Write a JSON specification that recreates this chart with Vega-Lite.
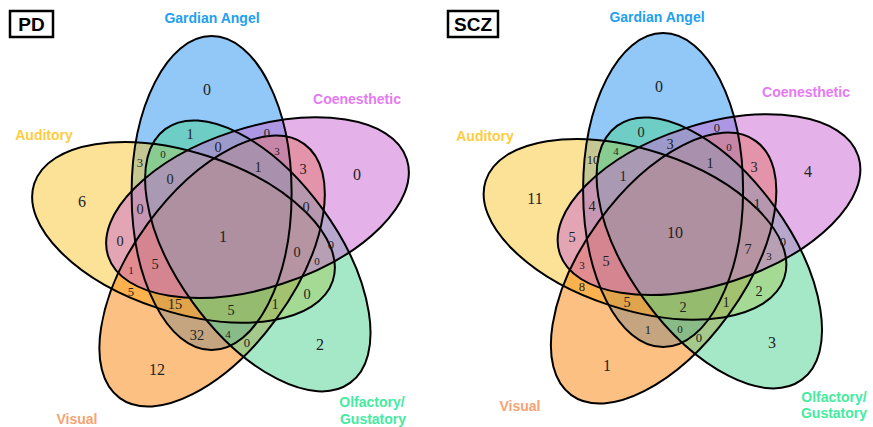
{
  "$schema": "https://vega.github.io/schema/vega-lite/v6.json",
  "width": 873,
  "height": 427,
  "autosize": {"type": "fit", "contains": "padding"},
  "padding": 0,
  "background": "white",
  "config": {"view": {"stroke": null}},
  "datasets": {
    "ellipses": [
      {"panel": "PD", "set": "Gardian", "cx": 211.6, "cy": 193.1, "rot": 270},
      {"panel": "PD", "set": "Auditory", "cx": 183.5, "cy": 232.3, "rot": 18},
      {"panel": "PD", "set": "Visual", "cx": 212.1, "cy": 271.1, "rot": 126},
      {"panel": "PD", "set": "Olfactory", "cx": 257.8, "cy": 255.9, "rot": 54},
      {"panel": "PD", "set": "Coenesthetic", "cx": 257.5, "cy": 207.7, "rot": 342},
      {"panel": "SCZ", "set": "Gardian", "cx": 663.1, "cy": 190.1, "rot": 270},
      {"panel": "SCZ", "set": "Auditory", "cx": 635.0, "cy": 229.3, "rot": 18},
      {"panel": "SCZ", "set": "Visual", "cx": 663.6, "cy": 268.1, "rot": 126},
      {"panel": "SCZ", "set": "Olfactory", "cx": 709.3, "cy": 252.9, "rot": 54},
      {"panel": "SCZ", "set": "Coenesthetic", "cx": 709.0, "cy": 204.7, "rot": 342}
    ],
    "counts": [
      {"x": 207, "y": 90, "n": "0", "cls": "big"},
      {"x": 357, "y": 175, "n": "0", "cls": "big"},
      {"x": 82, "y": 202, "n": "6", "cls": "big"},
      {"x": 223, "y": 237, "n": "1", "cls": "big"},
      {"x": 157, "y": 370, "n": "12", "cls": "big"},
      {"x": 320, "y": 345, "n": "2", "cls": "big"},
      {"x": 190, "y": 135, "n": "1", "cls": "mid"},
      {"x": 267, "y": 133, "n": "0", "cls": "small"},
      {"x": 218, "y": 148, "n": "0", "cls": "mid"},
      {"x": 140, "y": 163, "n": "3", "cls": "small"},
      {"x": 163, "y": 155, "n": "0", "cls": "tiny"},
      {"x": 277, "y": 152, "n": "3", "cls": "tiny"},
      {"x": 258, "y": 168, "n": "1", "cls": "mid"},
      {"x": 303, "y": 170, "n": "3", "cls": "mid"},
      {"x": 170, "y": 180, "n": "0", "cls": "mid"},
      {"x": 140, "y": 210, "n": "0", "cls": "mid"},
      {"x": 306, "y": 208, "n": "0", "cls": "mid"},
      {"x": 120, "y": 242, "n": "0", "cls": "mid"},
      {"x": 331, "y": 245, "n": "0", "cls": "small"},
      {"x": 297, "y": 253, "n": "0", "cls": "mid"},
      {"x": 317, "y": 262, "n": "0", "cls": "tiny"},
      {"x": 131, "y": 271, "n": "1", "cls": "tiny"},
      {"x": 155, "y": 265, "n": "5", "cls": "mid"},
      {"x": 131, "y": 292, "n": "5", "cls": "small"},
      {"x": 175, "y": 305, "n": "15", "cls": "mid"},
      {"x": 231, "y": 311, "n": "5", "cls": "mid"},
      {"x": 275, "y": 305, "n": "1", "cls": "mid"},
      {"x": 307, "y": 295, "n": "0", "cls": "mid"},
      {"x": 197, "y": 336, "n": "32", "cls": "mid"},
      {"x": 228, "y": 335, "n": "4", "cls": "tiny"},
      {"x": 247, "y": 343, "n": "0", "cls": "small"},
      {"x": 659, "y": 87, "n": "0", "cls": "big"},
      {"x": 808, "y": 172, "n": "4", "cls": "big"},
      {"x": 535, "y": 199, "n": "11", "cls": "big"},
      {"x": 675, "y": 233, "n": "10", "cls": "big"},
      {"x": 607, "y": 366, "n": "1", "cls": "big"},
      {"x": 772, "y": 343, "n": "3", "cls": "big"},
      {"x": 641, "y": 133, "n": "0", "cls": "mid"},
      {"x": 717, "y": 128, "n": "0", "cls": "small"},
      {"x": 670, "y": 145, "n": "3", "cls": "mid"},
      {"x": 593, "y": 160, "n": "10", "cls": "small"},
      {"x": 616, "y": 152, "n": "4", "cls": "tiny"},
      {"x": 729, "y": 148, "n": "0", "cls": "tiny"},
      {"x": 710, "y": 164, "n": "1", "cls": "mid"},
      {"x": 754, "y": 168, "n": "3", "cls": "mid"},
      {"x": 623, "y": 177, "n": "1", "cls": "mid"},
      {"x": 592, "y": 207, "n": "4", "cls": "mid"},
      {"x": 757, "y": 205, "n": "1", "cls": "mid"},
      {"x": 572, "y": 238, "n": "5", "cls": "mid"},
      {"x": 783, "y": 242, "n": "0", "cls": "small"},
      {"x": 748, "y": 250, "n": "7", "cls": "mid"},
      {"x": 769, "y": 257, "n": "3", "cls": "tiny"},
      {"x": 582, "y": 266, "n": "3", "cls": "tiny"},
      {"x": 606, "y": 262, "n": "5", "cls": "mid"},
      {"x": 582, "y": 287, "n": "8", "cls": "small"},
      {"x": 627, "y": 303, "n": "5", "cls": "mid"},
      {"x": 683, "y": 308, "n": "2", "cls": "mid"},
      {"x": 726, "y": 303, "n": "1", "cls": "mid"},
      {"x": 759, "y": 292, "n": "2", "cls": "mid"},
      {"x": 648, "y": 330, "n": "1", "cls": "small"},
      {"x": 680, "y": 330, "n": "0", "cls": "tiny"},
      {"x": 699, "y": 338, "n": "0", "cls": "small"}
    ],
    "cats": [
      {"x": 212, "y": 19, "set": "Gardian", "label": "Gardian Angel"},
      {"x": 357, "y": 100, "set": "Coenesthetic", "label": "Coenesthetic"},
      {"x": 44, "y": 136, "set": "Auditory", "label": "Auditory"},
      {"x": 77, "y": 420, "set": "Visual", "label": "Visual"},
      {"x": 372, "y": 403, "set": "Olfactory", "label": "Olfactory/"},
      {"x": 373, "y": 420, "set": "Olfactory", "label": "Gustatory"},
      {"x": 657, "y": 18, "set": "Gardian", "label": "Gardian Angel"},
      {"x": 806, "y": 93, "set": "Coenesthetic", "label": "Coenesthetic"},
      {"x": 485, "y": 137, "set": "Auditory", "label": "Auditory"},
      {"x": 520, "y": 407, "set": "Visual", "label": "Visual"},
      {"x": 834, "y": 398, "set": "Olfactory", "label": "Olfactory/"},
      {"x": 834, "y": 414, "set": "Olfactory", "label": "Gustatory"}
    ],
    "boxes": [
      {"panel": "PD", "x1": 10, "x2": 53, "y1": 11, "y2": 37, "xc": 31.5, "yc": 24.5},
      {"panel": "SCZ", "x1": 448, "x2": 498, "y1": 11, "y2": 37, "xc": 473, "yc": 24.5}
    ]
  },
  "layer": [
    {
      "data": {"name": "ellipses"},
      "mark": {
        "type": "point",
        "filled": true,
        "opacity": 1,
        "fillOpacity": 0.5,
        "strokeWidth": 0,
        "size": 98596,
        "shape": "M1,0C1,0.2814 0.5523,0.5096 0,0.5096C-0.5523,0.5096 -1,0.2814 -1,0C-1,-0.2814 -0.5523,-0.5096 0,-0.5096C0.5523,-0.5096 1,-0.2814 1,0Z"
      },
      "encoding": {
        "x": {"field": "cx", "type": "quantitative", "scale": {"domain": [0, 873], "nice": false, "zero": false}, "axis": null},
        "y": {"field": "cy", "type": "quantitative", "scale": {"domain": [0, 427], "nice": false, "zero": false, "reverse": true}, "axis": null},
        "fill": {
          "field": "set", "type": "nominal", "legend": null,
          "scale": {"domain": ["Gardian", "Coenesthetic", "Auditory", "Visual", "Olfactory"], "range": ["#2391F1", "#C965D1", "#F9C52D", "#F98105", "#4BD191"]}
        },
        "angle": {"field": "rot", "type": "quantitative", "scale": {"domain": [0, 360], "range": [0, 360]}}
      }
    },
    {
      "data": {"name": "ellipses"},
      "mark": {
        "type": "point",
        "filled": false,
        "opacity": 1,
        "stroke": "black",
        "strokeWidth": 2,
        "size": 98596,
        "shape": "M1,0C1,0.2814 0.5523,0.5096 0,0.5096C-0.5523,0.5096 -1,0.2814 -1,0C-1,-0.2814 -0.5523,-0.5096 0,-0.5096C0.5523,-0.5096 1,-0.2814 1,0Z"
      },
      "encoding": {
        "x": {"field": "cx", "type": "quantitative"},
        "y": {"field": "cy", "type": "quantitative"},
        "angle": {"field": "rot", "type": "quantitative", "scale": {"domain": [0, 360], "range": [0, 360]}}
      }
    },
    {
      "data": {"name": "counts"},
      "mark": {"type": "text", "font": "Liberation Serif", "color": "#222222", "align": "center", "baseline": "middle"},
      "encoding": {
        "x": {"field": "x", "type": "quantitative"},
        "y": {"field": "y", "type": "quantitative"},
        "text": {"field": "n"},
        "size": {"field": "cls", "type": "ordinal", "legend": null, "scale": {"domain": ["big", "mid", "small", "tiny"], "range": [16, 11, 8, 6]}}
      }
    },
    {
      "data": {"name": "cats"},
      "mark": {"type": "text", "font": "Liberation Sans", "fontWeight": "bold", "fontSize": 14, "align": "center", "baseline": "middle"},
      "encoding": {
        "x": {"field": "x", "type": "quantitative"},
        "y": {"field": "y", "type": "quantitative"},
        "text": {"field": "label"},
        "color": {
          "field": "set", "type": "nominal", "legend": null,
          "scale": {"domain": ["Gardian", "Coenesthetic", "Auditory", "Visual", "Olfactory"], "range": ["#22A0F0", "#E57AF2", "#FFCC40", "#F5A374", "#45EBA0"]}
        }
      }
    },
    {
      "data": {"name": "boxes"},
      "mark": {"type": "rect", "fill": "white", "stroke": "black", "strokeWidth": 2.5},
      "encoding": {
        "x": {"field": "x1", "type": "quantitative"},
        "x2": {"field": "x2"},
        "y": {"field": "y1", "type": "quantitative"},
        "y2": {"field": "y2"}
      }
    },
    {
      "data": {"name": "boxes"},
      "mark": {"type": "text", "font": "Liberation Sans", "fontWeight": "bold", "fontSize": 19, "color": "black", "align": "center", "baseline": "middle"},
      "encoding": {
        "x": {"field": "xc", "type": "quantitative"},
        "y": {"field": "yc", "type": "quantitative"},
        "text": {"field": "panel"}
      }
    }
  ]
}
